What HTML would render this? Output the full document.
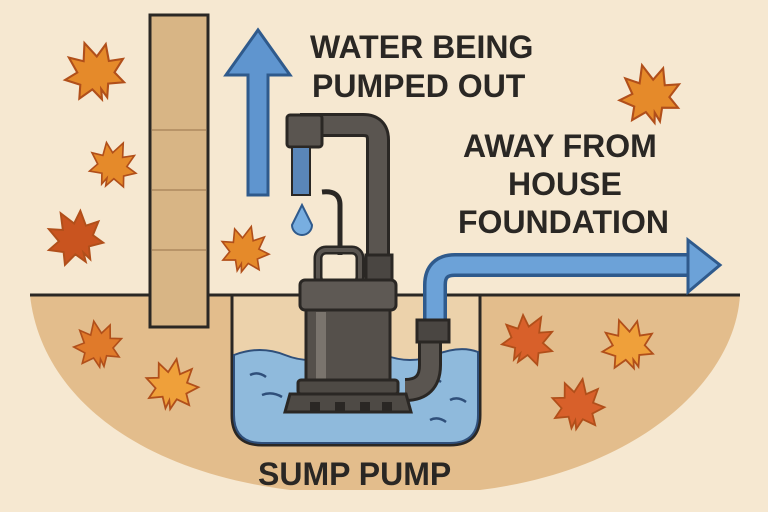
<!DOCTYPE html>
<html><head><style>
html,body{margin:0;padding:0;background:#f6e8d1;}
svg{display:block}
text{font-family:"Liberation Sans",sans-serif;font-weight:bold;fill:#2a2724;}
</style></head><body>
<svg width="768" height="512" viewBox="0 0 768 512">
<defs>
<path id="leaf" d="M0,-22 L5,-10 L14,-16 L12,-4 L22,-2 L13,5 L17,14 L6,11 L2,20 L0,13 L-2,20 L-6,11 L-17,14 L-13,5 L-22,-2 L-12,-4 L-14,-16 L-5,-10 Z"/>
</defs>
<rect width="768" height="512" fill="#f6e8d1"/>
<!-- soil -->
<path d="M30,295 L740,295 C735,380 640,470 480,490 L290,490 C130,470 40,390 30,295 Z" fill="#e3bd8c"/>
<line x1="30" y1="295" x2="740" y2="295" stroke="#2a2724" stroke-width="3"/>
<!-- pit -->
<path d="M232,295 L232,415 Q232,445 262,445 L450,445 Q480,445 480,415 L480,295 Z" fill="#ecd2ab" stroke="#2a2724" stroke-width="3"/>
<path d="M234,355 Q260,345 285,355 T335,355 T385,355 T435,355 T478,352 L478,415 Q478,443 450,443 L262,443 Q234,443 234,415 Z" fill="#8fbadc" stroke="#2f4f7a" stroke-width="2"/>
<g stroke="#2f4f7a" stroke-width="2.5" fill="none">
<path d="M250,375 q8,-4 16,2"/><path d="M262,395 q10,-4 20,2"/><path d="M425,380 q8,-4 16,2"/><path d="M450,400 q8,-4 16,2"/><path d="M430,420 q8,-4 16,2"/>
</g>
<!-- wall post -->
<rect x="150" y="15" width="58" height="312" fill="#d8b585" stroke="#2a2724" stroke-width="3"/>
<g stroke="#b89468" stroke-width="2"><line x1="152" y1="130" x2="206" y2="130"/><line x1="152" y1="190" x2="206" y2="190"/><line x1="152" y1="250" x2="206" y2="250"/></g>
<!-- up arrow -->
<path d="M248,195 L248,75 L226,75 L258,30 L290,75 L268,75 L268,195 Z" fill="#5f95cf" stroke="#2f5a8c" stroke-width="3"/>
<!-- pump pipe -->
<path d="M378,258 L378,140 Q378,125 363,125 L300,125" fill="none" stroke="#2a2724" stroke-width="24"/>
<path d="M378,258 L378,140 Q378,125 363,125 L300,125" fill="none" stroke="#5a5550" stroke-width="18"/>
<rect x="287" y="115" width="35" height="32" rx="3" fill="#5a5550" stroke="#2a2724" stroke-width="3"/>
<rect x="292" y="147" width="18" height="48" fill="#5a86b8" stroke="#2a2724" stroke-width="2"/>
<path d="M302,205 L292,225 A10,10 0 1 0 312,225 Z" fill="#78aee0" stroke="#2f5a8c" stroke-width="2"/>
<path d="M340,255 L340,205 Q340,190 322,192" fill="none" stroke="#2a2724" stroke-width="5"/>
<!-- right pipe -->
<path d="M405,390 Q430,390 430,365 L430,325" fill="none" stroke="#2a2724" stroke-width="24"/>
<path d="M405,390 Q430,390 430,365 L430,325" fill="none" stroke="#5a5550" stroke-width="18"/>
<path d="M435,340 L435,285 Q435,265 455,265 L690,265" fill="none" stroke="#2f5a8c" stroke-width="24"/>
<path d="M435,340 L435,285 Q435,265 455,265 L690,265" fill="none" stroke="#6ca2d8" stroke-width="17"/>
<path d="M688,240 L720,265 L688,292 Z" fill="#6ca2d8" stroke="#2f5a8c" stroke-width="3"/>
<rect x="417" y="320" width="32" height="22" fill="#4a4642" stroke="#2a2724" stroke-width="3"/>
<!-- pump body -->
<rect x="318" y="250" width="42" height="35" rx="8" fill="none" stroke="#2a2724" stroke-width="9"/>
<rect x="318" y="250" width="42" height="35" rx="8" fill="none" stroke="#5a5550" stroke-width="4"/>
<rect x="366" y="255" width="26" height="27" fill="#4a4642" stroke="#2a2724" stroke-width="3"/>
<rect x="300" y="280" width="96" height="30" rx="5" fill="#5e5954" stroke="#2a2724" stroke-width="3"/>
<rect x="306" y="310" width="84" height="72" fill="#55504b" stroke="#2a2724" stroke-width="3"/>
<rect x="316" y="312" width="10" height="68" fill="#7a746d"/>
<rect x="298" y="380" width="100" height="14" rx="3" fill="#4e4a45" stroke="#2a2724" stroke-width="3"/>
<path d="M285,412 L290,394 L406,394 L411,412 Z" fill="#4e4a45" stroke="#2a2724" stroke-width="3"/>
<g fill="#2a2724"><rect x="310" y="402" width="10" height="10"/><rect x="335" y="402" width="10" height="10"/><rect x="360" y="402" width="10" height="10"/><rect x="382" y="402" width="10" height="10"/></g>
<!-- leaves -->
<g fill="#e58a2a" stroke="#b14f1a" stroke-width="1.5">
<use href="#leaf" transform="translate(95,72) scale(1.4) rotate(-20)"/>
<use href="#leaf" transform="translate(113,165) scale(1.1) rotate(25)"/>
<use href="#leaf" transform="translate(75,238) scale(1.3) rotate(-30)" fill="#c9541f"/>
<use href="#leaf" transform="translate(245,250) scale(1.1) rotate(15)"/>
<use href="#leaf" transform="translate(98,345) scale(1.1) rotate(-10)" fill="#e07a2a"/>
<use href="#leaf" transform="translate(172,385) scale(1.2) rotate(10)" fill="#efa03a"/>
<use href="#leaf" transform="translate(650,95) scale(1.4) rotate(-15)"/>
<use href="#leaf" transform="translate(528,340) scale(1.2) rotate(30)" fill="#d8602a"/>
<use href="#leaf" transform="translate(628,345) scale(1.2) rotate(-20)" fill="#efa03a"/>
<use href="#leaf" transform="translate(578,405) scale(1.2) rotate(10)" fill="#d8602a"/>
</g>
<!-- text -->
<text x="310" y="58" font-size="32">WATER BEING</text>
<text x="312" y="97" font-size="32">PUMPED OUT</text>
<text x="463" y="157" font-size="32">AWAY FROM</text>
<text x="508" y="195" font-size="32">HOUSE</text>
<text x="458" y="233" font-size="32">FOUNDATION</text>
<text x="258" y="485" font-size="32">SUMP PUMP</text>
</svg>
</body></html>
